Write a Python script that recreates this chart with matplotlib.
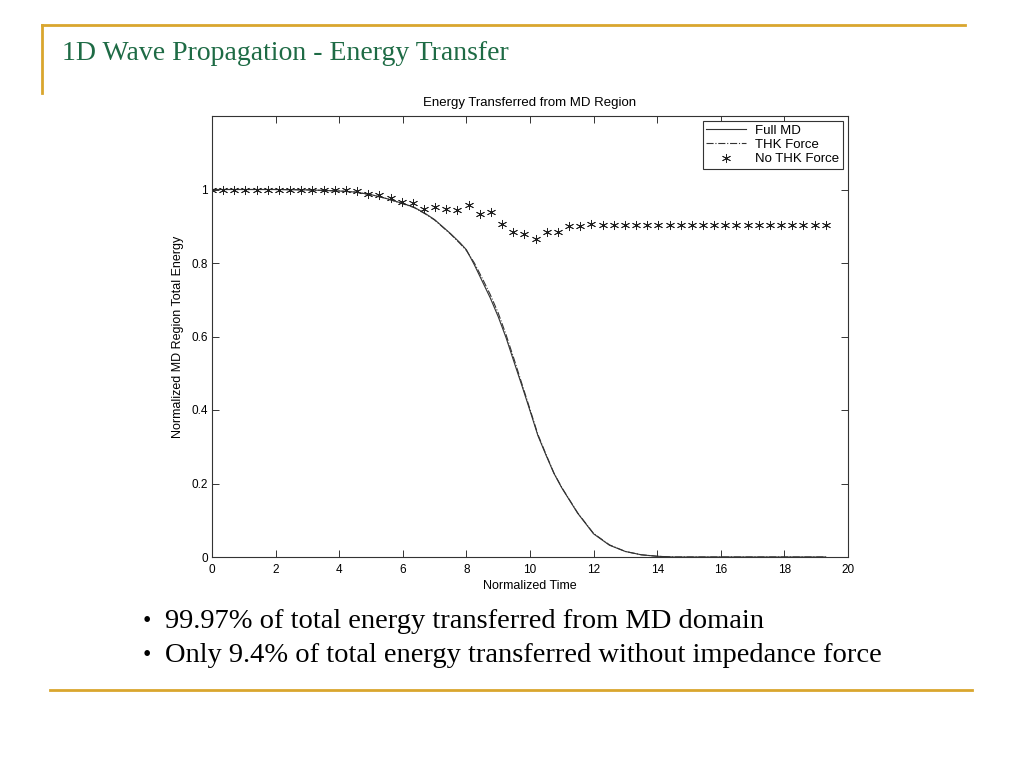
import numpy as np
import matplotlib
matplotlib.use("Agg")
import matplotlib.pyplot as plt
from matplotlib.lines import Line2D

# Slide texts
slide_title = "1D Wave Propagation - Energy Transfer"
chart_title = "Energy Transferred from MD Region"
bullets = ["99.97% of total energy transferred from MD domain",
           "Only 9.4% of total energy transferred without impedance force"]

# Full MD and THK Force curves
t_line = [0, 1, 2, 3, 4, 4.5, 5, 5.5, 6, 6.35, 6.7, 7, 7.5, 7.8, 8, 8.25,
          8.5, 8.75, 9, 9.25, 9.5, 9.75, 10, 10.25, 10.5, 10.75, 11, 11.5,
          12, 12.5, 13, 13.5, 14, 14.5, 15, 16, 17, 18, 19.3]
full_md = [1.0, 1.0, 1.0, 0.999, 0.996, 0.993, 0.986, 0.975, 0.962, 0.952,
           0.935, 0.918, 0.880, 0.855, 0.836, 0.795, 0.750, 0.705, 0.654,
           0.596, 0.530, 0.465, 0.398, 0.330, 0.278, 0.228, 0.188, 0.119,
           0.063, 0.032, 0.015, 0.006, 0.002, 0.0, 0.0, 0.0, 0.0, 0.0, 0.0]
thk_force = [1.0, 1.0, 1.0, 0.999, 0.996, 0.993, 0.986, 0.975, 0.961, 0.951,
             0.934, 0.917, 0.879, 0.853, 0.834, 0.800, 0.758, 0.714, 0.664,
             0.604, 0.538, 0.470, 0.402, 0.333, 0.280, 0.229, 0.189, 0.120,
             0.064, 0.033, 0.015, 0.006, 0.002, 0.0, 0.0, 0.0, 0.0, 0.0, 0.0]

# No THK Force (asterisks), 56 samples from 0 to 19.3
t_star = np.linspace(0, 19.3, 56)
no_thk = [1.0, 1.0, 1.0, 1.0, 1.0, 1.0, 1.0, 1.0, 1.0, 1.0, 1.0, 0.999,
          0.998, 0.996, 0.988, 0.984, 0.978, 0.965, 0.962, 0.948, 0.952,
          0.946, 0.943, 0.957, 0.934, 0.938, 0.907, 0.884, 0.879, 0.866,
          0.884, 0.884, 0.902, 0.902, 0.907, 0.903, 0.903, 0.904, 0.903,
          0.904, 0.903, 0.903, 0.904, 0.903, 0.904, 0.904, 0.903, 0.904,
          0.903, 0.904, 0.903, 0.904, 0.903, 0.904, 0.903, 0.904]

x_ticks = [0, 2, 4, 6, 8, 10, 12, 14, 16, 18, 20]
y_ticks = [0, 0.2, 0.4, 0.6, 0.8, 1.0]
y_tick_labels = ["0", "0.2", "0.4", "0.6", "0.8", "1"]

gold = "#D9A62E"
green = "#1E6B45"
sans = "Liberation Sans"

fig = plt.figure(figsize=(10.24, 7.68), dpi=100)

# slide decorations
fig.add_artist(Line2D([42/1024, 965/1024], [1-25/768, 1-25/768], color=gold, lw=2))
fig.add_artist(Line2D([42/1024, 42/1024], [1-25/768, 1-93/768], color=gold, lw=2))
fig.add_artist(Line2D([50/1024, 972/1024], [1-690/768, 1-690/768], color=gold, lw=2))
fig.text(62/1024, 1-53/768, slide_title, family="Liberation Serif", fontsize=20,
         color=green, va="center", ha="left")

ax = fig.add_axes([212/1024, 1-557/768, 636/1024, 441/768])
ax.plot(t_line, full_md, color="#333333", lw=0.8, ls="-", label="Full MD")
ax.plot(t_line, thk_force, color="#333333", lw=0.8, ls="-.", label="THK Force")
ax.plot(t_star, no_thk, ls="none", marker=(6, 2, 0), ms=6.5, mew=0.6,
        color="#222222", label="No THK Force")

ax.set_xlim(0, 20)
ax.set_ylim(0, 1.2)
ax.set_xticks(x_ticks)
ax.set_xticklabels([str(v) for v in x_ticks])
ax.set_yticks(y_ticks)
ax.set_yticklabels(y_tick_labels)
ax.tick_params(direction="in", top=True, right=True, length=5, width=0.7,
               labelsize=8.5, color="#333333")
ax.tick_params(axis="x", pad=5)
ax.tick_params(axis="y", pad=3)
for lab in ax.get_xticklabels() + ax.get_yticklabels():
    lab.set_family(sans)
for sp in ax.spines.values():
    sp.set_linewidth(0.8)
    sp.set_color("#333333")

ax.set_title(chart_title, family=sans, fontsize=9.5, pad=7)
ax.set_xlabel("Normalized Time", family=sans, fontsize=9, labelpad=3)
ax.set_ylabel("Normalized MD Region Total Energy", family=sans, fontsize=9, labelpad=5)

leg = ax.legend(loc="upper right", prop={"family": sans, "size": 9.5},
                fancybox=False, edgecolor="#333333", framealpha=1,
                borderpad=0.25, labelspacing=0.15, handlelength=3.0,
                handletextpad=0.7, borderaxespad=0.4)
leg.get_frame().set_linewidth(0.8)

for i, b in enumerate(bullets):
    y = 1 - (621 + 35*i)/768
    fig.text(143/1024, y, "\u2022", family="Liberation Serif", fontsize=17,
             va="center", ha="left")
    fig.text(165/1024, y, b, family="Liberation Serif", fontsize=20.5,
             va="center", ha="left")

fig.savefig("out.png", dpi=100)
